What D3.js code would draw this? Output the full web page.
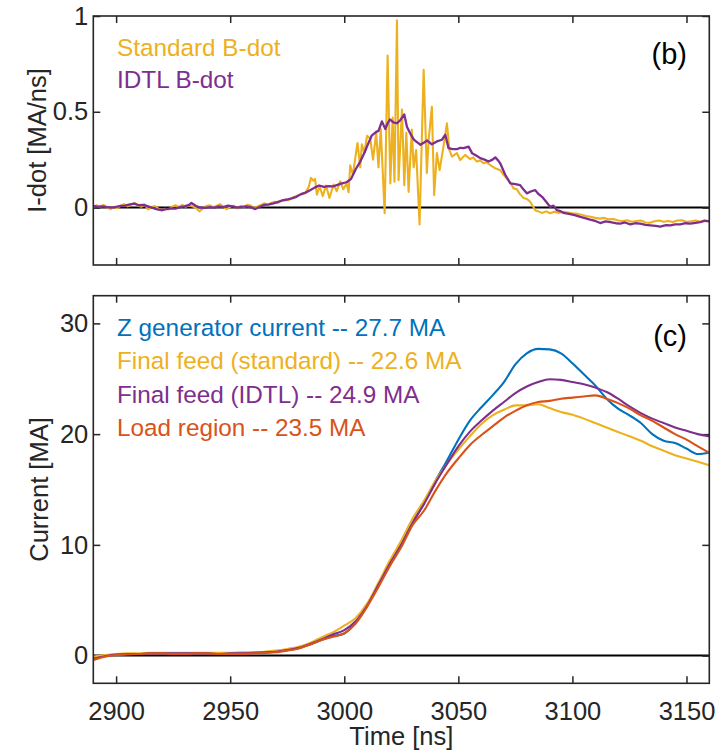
<!DOCTYPE html>
<meta charset="utf-8">
<style>
body { margin: 0; background: #fff; }
svg { font-family: "Liberation Sans", Arial, sans-serif; }
.axis text { font-size: 25.5px; fill: #262626; }
.axis line { stroke: #262626; stroke-width: 1.5px; }
.axis path { display: none; }
.frame { fill: none; stroke: #262626; stroke-width: 1.6px; }
.zero { stroke: #000; stroke-width: 2px; }
.trace { fill: none; stroke-width: 2.1px; stroke-linejoin: round; }
.legend text { font-size: 24.3px; }
.label { font-size: 25.5px; fill: #262626; }
.tag { font-size: 29px; fill: #000; }
</style>
<svg width="720" height="752"></svg>
<script src="https://d3js.org/d3.v7.min.js"></script>
<script>

// ---- panel (b): I-dot [MA/ns] ----
var stdTime = [2890,2891.5,2893,2894.5,2896,2897.5,2899,2900.5,2902,2903.5,2905,2906.5,2908,2909.5,2911,2912.5,2914,2915.5,2917,2918.5,2920,2921.5,2923,2924.5,2926,2927.5,2929,2930.5,2932,2933.5,2935,2936.5,2938,2939.5,2941,2942.5,2944,2945.5,2947,2948.5,2950,2951.5,2953,2954.5,2956,2957.5,2959,2960.5,2962,2963.5,2965,2966.5,2968,2969.5,2971,2972.5,2974,2975.5,2977,2978.5,2980,2981.5,2983,2984.5,2985.4,2986.5,2987.2,2988,2989.2,2990.6,2992,2993.5,2995.3,2996.7,2998.2,2999.6,3001,3001.9,3002.6,3003.8,3004.8,3005.8,3007,3007.7,3008.8,3010,3011.4,3012.6,3014,3015,3016,3017.7,3019,3020.2,3021.2,3022,3023.1,3023.8,3025.3,3026.3,3027.2,3028.2,3029.6,3030.4,3031.5,3033,3034.8,3036.2,3037,3038.4,3039.4,3040.6,3041.8,3043.5,3045,3046.1,3047.2,3049.4,3050.8,3053,3055.2,3056.5,3058.1,3059.5,3061,3062.5,3064,3066.2,3068.4,3069.5,3070.6,3072.8,3074.2,3075.7,3077,3078.6,3080,3081.5,3083,3083.7,3085,3086.6,3088.5,3090.3,3092,3094,3096,3098,3100,3102,3104,3106,3108,3110,3112,3114,3116,3118,3120,3122,3124,3126,3128,3130,3132,3134,3136,3138,3140,3142,3144,3146,3148,3150,3152,3154,3156,3158,3160];
var stdIdot = [0.002,0.012,0.004,0.014,0.000,-0.008,0.004,-0.004,0.010,0.018,0.006,0.014,0.024,0.010,0.004,0.016,-0.010,0.002,0.008,-0.006,-0.016,-0.006,-0.010,0.004,0.012,0.002,0.014,0.004,0.012,0.006,-0.002,-0.020,-0.006,0.008,0.012,0.002,0.008,0.018,0.004,-0.008,0.004,0.010,-0.004,0.008,0.002,0.014,0.010,-0.002,0.006,0.014,0.022,0.012,0.024,0.030,0.024,0.036,0.040,0.038,0.050,0.058,0.064,0.070,0.076,0.110,0.155,0.140,0.150,0.067,0.110,0.060,0.115,0.050,0.120,0.085,0.137,0.095,0.125,0.080,0.220,0.170,0.257,0.337,0.210,0.330,0.285,0.375,0.360,0.250,0.390,0.210,0.410,-0.030,0.793,0.126,0.470,0.135,0.977,0.143,0.512,0.117,0.390,0.082,0.407,0.210,0.300,-0.088,0.719,0.180,0.355,0.526,0.065,0.284,0.196,0.320,0.440,0.300,0.266,0.284,0.248,0.275,0.253,0.262,0.240,0.246,0.231,0.236,0.222,0.205,0.195,0.175,0.161,0.130,0.100,0.095,0.070,0.050,0.045,0.030,0.000,-0.014,-0.020,-0.028,-0.020,-0.030,-0.022,-0.028,-0.022,-0.026,-0.030,-0.032,-0.038,-0.044,-0.048,-0.054,-0.058,-0.054,-0.062,-0.060,-0.068,-0.070,-0.066,-0.074,-0.070,-0.068,-0.078,-0.080,-0.072,-0.068,-0.074,-0.070,-0.076,-0.068,-0.066,-0.074,-0.072,-0.068,-0.074,-0.070,-0.072];

var idtlTime = [2890,2892,2894,2896,2898,2900,2902,2904,2906,2908,2910,2912,2914,2916,2918,2920,2922,2924,2926,2928,2930,2932,2933,2935,2937,2939,2941,2943,2945,2947,2949,2951,2953,2955,2957,2959,2961,2963,2965,2967,2969,2971,2973,2975,2977,2979,2981,2983,2985,2987,2989,2991,2993,2995,2997,2999,3001,3003,3005,3007,3009,3010,3012,3014,3015,3016.5,3018,3019,3020,3021.5,3023,3024.5,3026.3,3027.5,3029,3030.5,3032,3033.4,3035,3036.3,3038.4,3040.6,3042.8,3044.3,3045.7,3047.5,3049.4,3051,3052.3,3054.5,3056,3058,3059.6,3061.5,3063.2,3065,3066.2,3067.5,3068.4,3070.6,3072.8,3075,3077.1,3078.5,3080,3082,3083.7,3085,3086.7,3088.5,3090.3,3091.7,3093.2,3095,3096.1,3099,3101,3103.5,3105.5,3107.8,3110,3112.2,3114.5,3116.6,3119,3121,3123,3125.4,3127.5,3129.7,3132,3134.2,3136.5,3138.5,3141,3143,3145,3147.3,3149.5,3151.7,3154,3156,3158,3160];
var idtlIdot = [0.008,0.004,0.006,0.002,0.000,0.004,0.008,0.010,0.016,0.020,0.012,0.014,0.006,-0.002,-0.010,-0.014,-0.008,-0.004,-0.006,0.002,0.006,0.014,0.024,0.008,0.000,-0.002,0.002,0.000,0.006,0.002,0.010,0.006,0.000,0.004,0.006,0.002,-0.008,0.004,0.014,0.016,0.022,0.030,0.038,0.042,0.048,0.056,0.070,0.078,0.090,0.104,0.115,0.108,0.112,0.110,0.118,0.126,0.132,0.150,0.200,0.240,0.290,0.320,0.375,0.395,0.400,0.450,0.410,0.440,0.460,0.445,0.440,0.455,0.486,0.420,0.385,0.355,0.340,0.328,0.340,0.350,0.330,0.345,0.354,0.380,0.310,0.305,0.305,0.312,0.310,0.318,0.284,0.270,0.258,0.250,0.240,0.250,0.262,0.245,0.230,0.170,0.126,0.122,0.117,0.095,0.074,0.085,0.091,0.072,0.056,0.030,0.003,0.010,-0.014,-0.020,-0.028,-0.034,-0.040,-0.049,-0.055,-0.063,-0.070,-0.081,-0.072,-0.076,-0.082,-0.084,-0.078,-0.088,-0.082,-0.084,-0.090,-0.093,-0.096,-0.100,-0.092,-0.093,-0.088,-0.088,-0.082,-0.084,-0.080,-0.076,-0.068,-0.072];

// ---- panel (c): current [MA] ----
var curTime = [2890,2895,2900,2905,2910,2915,2920,2925,2930,2935,2940,2945,2950,2955,2960,2965,2970,2975,2980,2985,2990,2995,3000,3005,3010,3015,3020,3025,3030,3035,3040,3045,3050,3055,3060,3065,3070,3075,3080,3085,3090,3095,3100,3105,3110,3115,3120,3125,3130,3135,3140,3145,3150,3155,3160];
var zGen    = [-0.2,0.0,0.1,0.15,0.15,0.2,0.2,0.15,0.2,0.2,0.2,0.2,0.2,0.2,0.25,0.3,0.35,0.5,0.7,1.0,1.4,1.75,2.0,3.0,4.5,6.4,8.4,10.1,12.0,13.8,15.8,17.6,19.5,21.2,22.4,23.5,24.7,26.3,27.3,27.7,27.65,27.3,26.4,25.4,24.4,23.2,22.3,21.7,21.0,20.0,19.4,19.2,18.7,18.2,18.35];
var feedStd = [-0.1,0.05,0.15,0.2,0.2,0.25,0.25,0.25,0.25,0.25,0.25,0.25,0.25,0.3,0.3,0.35,0.45,0.6,0.8,1.15,1.65,2.1,2.7,3.4,4.7,6.6,8.6,10.4,12.4,14.0,15.8,17.3,18.6,19.8,20.9,21.7,22.2,22.6,22.6,22.7,22.35,22.0,21.75,21.4,21.0,20.6,20.2,19.8,19.4,18.9,18.5,18.1,17.8,17.5,17.2];
var feedIdtl = [-0.3,-0.05,0.1,0.15,0.15,0.2,0.2,0.2,0.2,0.2,0.2,0.15,0.2,0.2,0.25,0.3,0.35,0.5,0.7,1.05,1.45,1.9,2.3,3.1,4.5,6.4,8.3,10.0,12.0,13.7,15.6,17.3,18.9,20.2,21.2,22.1,22.9,23.7,24.3,24.7,24.95,24.9,24.7,24.5,24.2,23.8,23.2,22.5,21.9,21.4,21.0,20.6,20.3,20.0,19.8];
var loadReg = [-0.4,-0.1,0.05,0.1,0.15,0.2,0.2,0.15,0.15,0.2,0.2,0.15,0.15,0.15,0.2,0.25,0.3,0.45,0.65,1.0,1.4,1.7,2.0,2.9,4.4,6.2,8.1,9.8,11.8,13.1,14.9,16.5,17.8,19.0,19.9,20.7,21.5,22.1,22.6,22.9,23.0,23.2,23.3,23.4,23.5,23.2,22.8,22.3,21.7,21.2,20.6,20.0,19.5,18.9,18.3];

var xTicks = [2900, 2950, 3000, 3050, 3100, 3150];
var idotTicks = [0, 0.5, 1];
var curTicks = [0, 10, 20, 30];

var dotLegend = ["Standard B-dot", "IDTL B-dot"];
var curLegend = ["Z generator current -- 27.7 MA", "Final feed (standard) -- 22.6 MA",
                 "Final feed (IDTL) -- 24.9 MA", "Load region -- 23.5 MA"];

var blue = "#0072BD", orange = "#D95319", yellow = "#EDB120", purple = "#7E2F8E";

var svg = d3.select("svg");
var left = 93.3, right = 709.3;
var x = d3.scaleLinear().domain([2890, 3160]).range([left, right]);

function panel(top, bottom, yDomain, yTicks, clipId, showX) {
  var y = d3.scaleLinear().domain(yDomain).range([bottom, top]);
  var g = svg.append("g");

  g.append("clipPath").attr("id", clipId)
    .append("rect").attr("x", left).attr("y", top)
    .attr("width", right - left).attr("height", bottom - top);

  g.append("line").attr("class", "zero")
    .attr("x1", left).attr("x2", right)
    .attr("y1", y(0)).attr("y2", y(0));

  var b = g.append("g").attr("class", "axis")
    .attr("transform", "translate(0," + bottom + ")")
    .call(d3.axisBottom(x).tickValues(xTicks).tickSizeInner(-7).tickSizeOuter(0).tickPadding(19)
      .tickFormat(d3.format("d")));
  if (!showX) b.selectAll("text").remove();
  g.append("g").attr("class", "axis")
    .attr("transform", "translate(0," + top + ")")
    .call(d3.axisTop(x).tickValues(xTicks).tickSizeInner(-7).tickSizeOuter(0).tickFormat(""));
  g.append("g").attr("class", "axis")
    .attr("transform", "translate(" + left + ",0)")
    .call(d3.axisLeft(y).tickValues(yTicks).tickSizeInner(-7).tickSizeOuter(0).tickPadding(5)
      .tickFormat(d3.format("")));
  g.append("g").attr("class", "axis")
    .attr("transform", "translate(" + right + ",0)")
    .call(d3.axisRight(y).tickValues(yTicks).tickSizeInner(-7).tickSizeOuter(0).tickFormat(""));

  var plot = g.append("g").attr("clip-path", "url(#" + clipId + ")");
  g.append("rect").attr("class", "frame")
    .attr("x", left).attr("y", top).attr("width", right - left).attr("height", bottom - top);
  return { y: y, plot: plot, g: g };
}

// panel (b)
var pb = panel(16, 265, [-0.3, 1], idotTicks, "clipB", false);
var lineB = d3.line().x(function(d) { return x(d[0]); }).y(function(d) { return pb.y(d[1]); });
pb.plot.append("path").attr("class", "trace").attr("stroke", yellow)
  .attr("d", lineB(d3.zip(stdTime, stdIdot)));
pb.plot.append("path").attr("class", "trace").attr("stroke", purple).style("stroke-width", "2.3px")
  .attr("d", lineB(d3.zip(idtlTime, idtlIdot)));

pb.g.append("g").attr("class", "legend").selectAll("text")
  .data(dotLegend).enter().append("text")
    .attr("x", 117).attr("y", function(d, i) { return 56 + i * 31.5; })
    .attr("fill", function(d, i) { return [yellow, purple][i]; })
    .text(function(d) { return d; });
pb.g.append("text").attr("class", "tag").attr("x", 687).attr("y", 64)
  .attr("text-anchor", "end").text("(b)");

// panel (c)
var pc = panel(295.7, 683.3, [-2.5, 32.5], curTicks, "clipC", true);
var lineC = d3.line().curve(d3.curveMonotoneX)
  .x(function(d) { return x(d[0]); }).y(function(d) { return pc.y(d[1]); });
[[zGen, blue], [feedStd, yellow], [feedIdtl, purple], [loadReg, orange]].forEach(function(s) {
  pc.plot.append("path").attr("class", "trace").attr("stroke", s[1])
    .attr("d", lineC(d3.zip(curTime, s[0])));
});

pc.g.append("g").attr("class", "legend").selectAll("text")
  .data(curLegend).enter().append("text")
    .attr("x", 117).attr("y", function(d, i) { return 336 + i * 33.3; })
    .attr("fill", function(d, i) { return [blue, yellow, purple, orange][i]; })
    .text(function(d) { return d; });
pc.g.append("text").attr("class", "tag").attr("x", 687).attr("y", 346)
  .attr("text-anchor", "end").text("(c)");

// axis titles
svg.append("text").attr("class", "label").attr("text-anchor", "middle")
  .attr("transform", "translate(46," + (16 + 265) / 2 + ") rotate(-90)")
  .text("I-dot [MA/ns]");
svg.append("text").attr("class", "label").attr("text-anchor", "middle")
  .attr("transform", "translate(48," + (295.7 + 683.3) / 2 + ") rotate(-90)")
  .text("Current [MA]");
svg.append("text").attr("class", "label").attr("text-anchor", "middle")
  .attr("x", (left + right) / 2).attr("y", 745)
  .text("Time [ns]");

</script>
